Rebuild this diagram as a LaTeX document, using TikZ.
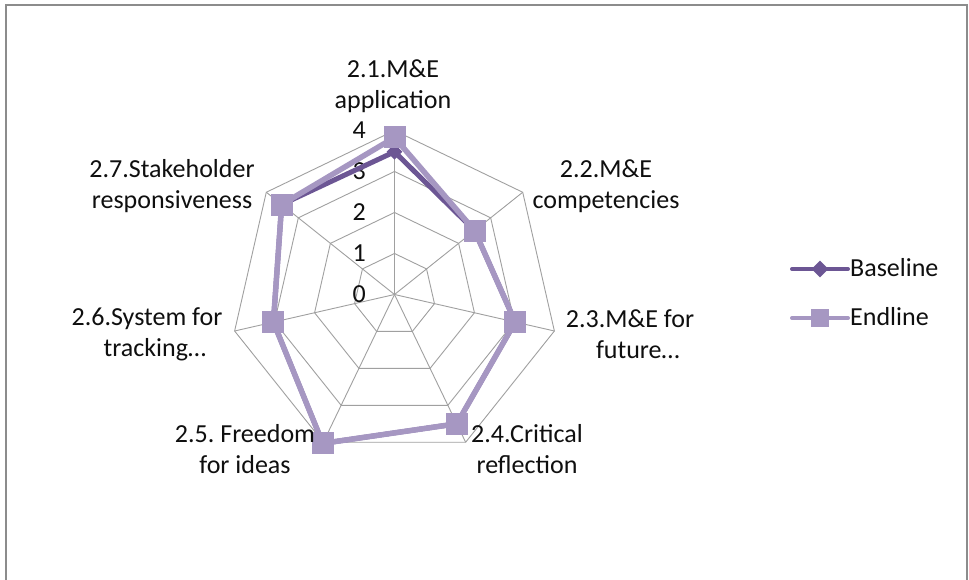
\documentclass[tikz,border=0pt]{standalone}
\usepackage{fontspec}
\setmainfont{Carlito}
\usetikzlibrary{shapes.geometric}
\frenchspacing
\definecolor{basec}{RGB}{108,86,148}
\definecolor{endc}{RGB}{166,151,194}
\definecolor{gridc}{RGB}{160,160,160}
\definecolor{framec}{RGB}{140,140,140}
\definecolor{txtc}{RGB}{15,15,15}
\tikzset{
  lbl/.style={align=center, text=txtc, inner sep=0pt, font=\fontsize{26}{31}\selectfont},
  ticklbl/.style={anchor=east, text=txtc, inner sep=0pt, font=\fontsize{26}{30}\selectfont},
  gridline/.style={draw=gridc, line width=0.9pt},
  baseln/.style={draw=basec, line width=5pt, line join=round},
  endln/.style={draw=endc, line width=5.5pt, line join=round},
  dmark/.style={diamond, fill=basec, draw=none, minimum size=16pt, inner sep=0pt},
  smark/.style={rectangle, fill=endc, draw=none, minimum size=22pt, inner sep=0pt},
  lsmark/.style={rectangle, fill=endc, draw=none, minimum size=18pt, inner sep=0pt},
}
\begin{document}
\begin{tikzpicture}[x=1pt,y=-1pt]
\useasboundingbox (0,0) rectangle (969,580);
\fill[white] (0,0) rectangle (969,580);
\draw[framec, line width=2pt] (6,580) -- (6,5) -- (967,5) -- (967,580);

\coordinate (O) at (394.5,294.5);
% grid coordinates
\foreach \k in {0,...,6} {
  \pgfmathsetmacro\ang{\k*360/7}
  \foreach \r in {1,2,3,4} {
    \coordinate (g\r-\k) at ({394.5+41*\r*sin(\ang)},{294.5-41*\r*cos(\ang)});
  }
}
% rings
\foreach \r in {1,2,3,4} {
  \draw[gridline] (g\r-0) -- (g\r-1) -- (g\r-2) -- (g\r-3) -- (g\r-4) -- (g\r-5) -- (g\r-6) -- cycle;
}
% spokes
\foreach \k in {0,...,6} {
  \draw[gridline] (O) -- (g4-\k);
}
% tick labels
\foreach \t in {0,...,4} {
  \node[ticklbl] (t\t) at (366,{294.5-41*\t}) {\t};
}

% data coordinates
\foreach \v [count=\i from 0] in {3.48,2.5,3.02,3.5,4.03,3.03,3.52} {
  \pgfmathsetmacro\ang{\i*360/7}
  \coordinate (b\i) at ({394.5+41*\v*sin(\ang)},{294.5-41*\v*cos(\ang)});
}
\foreach \v [count=\i from 0] in {3.83,2.5,3.02,3.5,4.03,3.03,3.52} {
  \pgfmathsetmacro\ang{\i*360/7}
  \coordinate (e\i) at ({394.5+41*\v*sin(\ang)},{294.5-41*\v*cos(\ang)});
}

% Baseline
\draw[baseln] (b0) -- (b1) -- (b2) -- (b3) -- (b4) -- (b5) -- (b6) -- cycle;
\foreach \i in {0,...,6} { \node[dmark] (bm\i) at (b\i) {}; }
% Endline
\draw[endln] (e0) -- (e1) -- (e2) -- (e3) -- (e4) -- (e5) -- (e6) -- cycle;
\foreach \i in {0,...,6} { \node[smark] (em\i) at (e\i) {}; }

% category labels
\node[lbl] (c1) at (393,86) {2.1.M\&E\\application};
\node[lbl] (c2) at (606,186) {2.2.M\&E\\competencies};
\node[lbl] (c3) at (630,334) {2.3.M\&E for\\\hspace*{0.6em}future\ldots};
\node[lbl] (c4) at (527,449) {2.4.Critical\\reflection};
\node[lbl] (c5) at (245,449) {2.5. Freedom\\for ideas};
\node[lbl] (c6) at (147,334) {2.6.System for\\\hspace*{0.6em}tracking\ldots};
\node[lbl] (c7) at (172,186) {2.7.Stakeholder\\responsiveness};

% legend
\coordinate (lb1) at (792,269);
\coordinate (lb2) at (848,269);
\draw[draw=basec, line width=4pt, line cap=round] (lb1) -- (lb2);
\node[dmark, minimum size=17pt] (lbm) at (820,269) {};
\node[lbl, anchor=west] (lbt) at (850,268) {Baseline};
\coordinate (le1) at (792,318);
\coordinate (le2) at (848,318);
\draw[draw=endc, line width=4pt, line cap=round] (le1) -- (le2);
\node[lsmark] (lem) at (820,318) {};
\node[lbl, anchor=west] (let) at (850,317) {Endline};
\end{tikzpicture}
\end{document}
